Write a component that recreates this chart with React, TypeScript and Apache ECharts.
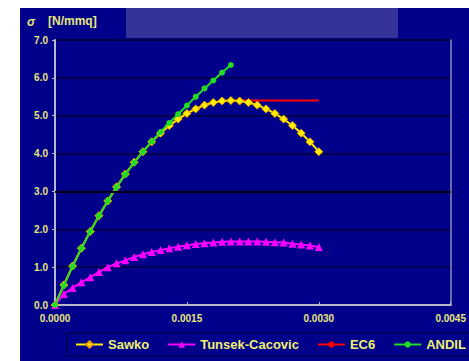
import React, { useEffect, useRef } from "react";
import * as echarts from "echarts";

const strain: number[] = [
  0, 0.0001, 0.0002, 0.0003, 0.0004, 0.0005, 0.0006, 0.0007, 0.0008, 0.0009, 0.001,
  0.0011, 0.0012, 0.0013, 0.0014, 0.0015, 0.0016, 0.0017, 0.0018, 0.0019, 0.002,
  0.0021, 0.0022, 0.0023, 0.0024, 0.0025, 0.0026, 0.0027, 0.0028, 0.0029, 0.003,
];

const sawko: number[] = [
  0, 0.53, 1.03, 1.5, 1.94, 2.36, 2.75, 3.12, 3.46, 3.77, 4.05,
  4.31, 4.54, 4.74, 4.91, 5.06, 5.18, 5.28, 5.35, 5.39, 5.4,
  5.39, 5.35, 5.28, 5.18, 5.06, 4.91, 4.74, 4.54, 4.31, 4.05,
];

const tunsek: number[] = [
  0, 0.29, 0.45, 0.6, 0.73, 0.87, 1.0, 1.1, 1.18, 1.27, 1.34,
  1.4, 1.45, 1.5, 1.54, 1.58, 1.61, 1.63, 1.65, 1.67, 1.68,
  1.68, 1.68, 1.68, 1.67, 1.66, 1.65, 1.62, 1.6, 1.57, 1.53,
];

const ec6: number[] = [
  0, 0.53, 1.03, 1.5, 1.94, 2.36, 2.75, 3.12, 3.46, 3.77, 4.05,
  4.31, 4.54, 4.74, 4.91, 5.06, 5.18, 5.28, 5.35, 5.39, 5.4,
  5.4, 5.4, 5.4, 5.4, 5.4, 5.4, 5.4, 5.4, 5.4, 5.4,
];

const andil: number[] = [
  0, 0.51, 1.02, 1.5, 1.94, 2.36, 2.75, 3.11, 3.45, 3.76, 4.05,
  4.32, 4.57, 4.81, 5.04, 5.27, 5.5, 5.72, 5.93, 6.14, 6.34,
];

const seriesNames: string[] = ["Sawko", "Tunsek-Cacovic", "EC6", "ANDIL"];
const yAxisSymbol = "σ";
const yAxisUnit = "[N/mmq]";

const pair = (ys: number[]) => ys.map((y, i) => [strain[i], y]);

export default function App() {
  const ref = useRef<HTMLDivElement>(null);
  useEffect(() => {
    if (!ref.current) return;
    const chart = echarts.init(ref.current, undefined, { renderer: "svg" });
    const labelColor = "#e8e87a";
    const font = "Liberation Sans";
    chart.setOption({
      animation: false,
      backgroundColor: "#00008a",
      textStyle: { fontFamily: font },
      graphic: [
        { type: "rect", shape: { x: 0, y: 0, width: 20, height: 361 }, style: { fill: "#ffffff" }, silent: true },
        { type: "rect", shape: { x: 0, y: 0, width: 469, height: 8 }, style: { fill: "#ffffff" }, silent: true },
        { type: "rect", shape: { x: 126, y: 8, width: 272, height: 30 }, style: { fill: "#333399" }, silent: true },
        {
          type: "text",
          x: 27,
          y: 16,
          style: { text: yAxisSymbol, fill: labelColor, font: `italic bold 12px '${font}'` },
          silent: true,
        },
        {
          type: "text",
          x: 48,
          y: 15,
          style: { text: yAxisUnit, fill: labelColor, font: `bold 12px '${font}'` },
          silent: true,
        },
      ],
      grid: { left: 55, right: 14, top: 40, bottom: 56 },
      legend: {
        data: seriesNames,
        left: 67,
        top: 333,
        width: 393,
        height: 24,
        padding: [5, 8, 5, 8],
        itemGap: 18,
        itemWidth: 27,
        itemHeight: 8,
        borderColor: "#000030",
        borderWidth: 1,
        textStyle: { color: "#f0f070", fontWeight: "bold", fontSize: 13, fontFamily: font },
      },
      xAxis: [
        {
          type: "value",
          min: 0,
          max: 0.0045,
          interval: 0.0015,
          axisLine: { show: true, lineStyle: { color: "#b8b8c8", width: 2 } },
          axisTick: { show: true, inside: true, length: 3, lineStyle: { color: "#b8b8c8" } },
          axisLabel: {
            color: labelColor,
            fontWeight: "bold",
            fontSize: 10,
            margin: 8,
            formatter: (v: number) => v.toFixed(4),
          },
          splitLine: { show: false },
        },
      ],
      yAxis: [
        {
          type: "value",
          min: 0,
          max: 7,
          interval: 1,
          axisLine: { show: true, lineStyle: { color: "#b8b8c8", width: 2 } },
          axisTick: { show: true, length: 3, lineStyle: { color: "#b8b8c8" } },
          axisLabel: {
            color: labelColor,
            fontWeight: "bold",
            fontSize: 10,
            margin: 7,
            formatter: (v: number) => v.toFixed(1),
          },
          splitLine: { show: true, lineStyle: { color: "#000035", width: 1.5 } },
        },
        {
          type: "value",
          position: "right",
          min: 0,
          max: 7,
          interval: 1,
          axisLine: { show: true, lineStyle: { color: "#9090b8", width: 1.5 } },
          axisTick: { show: false },
          axisLabel: { show: false },
          splitLine: { show: false },
        },
      ],
      series: [
        {
          name: seriesNames[0],
          type: "line",
          data: pair(sawko),
          z: 3,
          symbol: "diamond",
          symbolSize: 8,
          lineStyle: { color: "#ffee00", width: 2 },
          itemStyle: { color: "#ffee00", borderColor: "#f0a000", borderWidth: 1 },
        },
        {
          name: seriesNames[1],
          type: "line",
          data: pair(tunsek),
          z: 3,
          symbol: "triangle",
          symbolSize: 8,
          lineStyle: { color: "#ff00ff", width: 2 },
          itemStyle: { color: "#ff00ff" },
        },
        {
          name: seriesNames[2],
          type: "line",
          data: pair(ec6),
          z: 2,
          symbol: "none",
          lineStyle: { color: "#ff0000", width: 2 },
          itemStyle: { color: "#ff0000" },
          markLine: {
            silent: true,
            symbol: "none",
            label: { show: false },
            lineStyle: { color: "#000010", width: 2, type: "solid" },
            data: [{ yAxis: 3 }],
          },
        },
        {
          name: seriesNames[3],
          type: "line",
          data: pair(andil),
          z: 4,
          symbol: "circle",
          symbolSize: 6,
          showAllSymbol: true,
          lineStyle: { color: "#22dd22", width: 2 },
          itemStyle: { color: "#22dd22" },
        },
      ],
    });
    return () => chart.dispose();
  }, []);
  return (
    <div
      ref={ref}
      style={{ position: "absolute", left: 0, top: 0, width: 469, height: 361, background: "#ffffff" }}
    />
  );
}
